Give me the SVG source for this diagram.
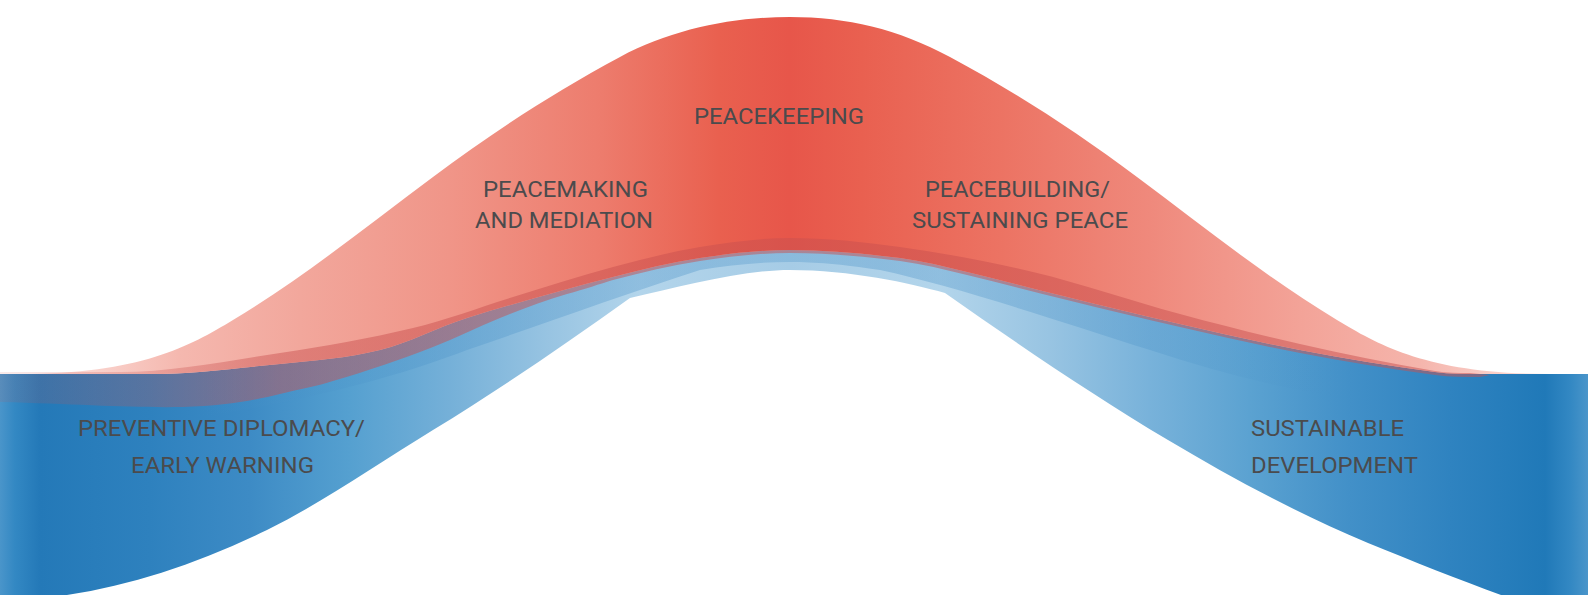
<svg xmlns="http://www.w3.org/2000/svg" width="1588" height="595" viewBox="0 0 1588 595">
  <style>
    .lbl { font-family: Roboto, "Liberation Sans", Arial, sans-serif; font-size: 22.5px; fill: #4b4b4d; }
  </style>
  <defs>
    <linearGradient id="blueGrad" gradientUnits="userSpaceOnUse" x1="0" y1="0" x2="1588" y2="0">
      <stop offset="0" stop-color="#4a95ca"/>
      <stop offset="0.0094" stop-color="#3388c3"/>
      <stop offset="0.025" stop-color="#2479b8"/>
      <stop offset="0.094" stop-color="#2e81be"/>
      <stop offset="0.157" stop-color="#3d8bc5"/>
      <stop offset="0.220" stop-color="#55a0d0"/>
      <stop offset="0.283" stop-color="#75b0d8"/>
      <stop offset="0.346" stop-color="#98c4e2"/>
      <stop offset="0.403" stop-color="#b3d5eb"/>
      <stop offset="0.497" stop-color="#a6cce6"/>
      <stop offset="0.592" stop-color="#b3d5eb"/>
      <stop offset="0.661" stop-color="#98c4e2"/>
      <stop offset="0.724" stop-color="#78b2da"/>
      <stop offset="0.787" stop-color="#5ba2d1"/>
      <stop offset="0.850" stop-color="#4290c8"/>
      <stop offset="0.913" stop-color="#2f83c0"/>
      <stop offset="0.973" stop-color="#2079b8"/>
      <stop offset="0.989" stop-color="#3388c3"/>
      <stop offset="1" stop-color="#4a95ca"/>
    </linearGradient>
    <linearGradient id="flatGrad" gradientUnits="userSpaceOnUse" x1="0" y1="0" x2="1588" y2="0">
      <stop offset="0.126" stop-color="#4a92c8" stop-opacity="0"/>
      <stop offset="0.252" stop-color="#4a92c8" stop-opacity="0.3"/>
      <stop offset="0.441" stop-color="#4a92c8" stop-opacity="0.35"/>
      <stop offset="0.497" stop-color="#4a92c8" stop-opacity="0.3"/>
      <stop offset="0.554" stop-color="#4a92c8" stop-opacity="0.35"/>
      <stop offset="0.724" stop-color="#4a92c8" stop-opacity="0.3"/>
      <stop offset="0.850" stop-color="#4a92c8" stop-opacity="0"/>
    </linearGradient>
    <linearGradient id="redGrad" gradientUnits="userSpaceOnUse" x1="0" y1="0" x2="1588" y2="0">
      <stop offset="0" stop-color="#fde9e6"/>
      <stop offset="0.063" stop-color="#f9d0ca"/>
      <stop offset="0.113" stop-color="#f5b8af"/>
      <stop offset="0.189" stop-color="#f2a79c"/>
      <stop offset="0.283" stop-color="#f09588"/>
      <stop offset="0.378" stop-color="#ed7c6d"/>
      <stop offset="0.453" stop-color="#e9604f"/>
      <stop offset="0.497" stop-color="#e7564a"/>
      <stop offset="0.542" stop-color="#e96050"/>
      <stop offset="0.630" stop-color="#ec7363"/>
      <stop offset="0.724" stop-color="#ef897c"/>
      <stop offset="0.819" stop-color="#f3a398"/>
      <stop offset="0.894" stop-color="#f5b5ac"/>
      <stop offset="0.945" stop-color="#f9d0ca"/>
      <stop offset="1" stop-color="#fde9e6"/>
    </linearGradient>
    <linearGradient id="strandGrad" gradientUnits="userSpaceOnUse" x1="0" y1="0" x2="1588" y2="0">
      <stop offset="0" stop-color="#c9504f" stop-opacity="0.12"/>
      <stop offset="0.094" stop-color="#c9504f" stop-opacity="0.27"/>
      <stop offset="0.176" stop-color="#c9504f" stop-opacity="0.47"/>
      <stop offset="0.30" stop-color="#c9504f" stop-opacity="0.5"/>
      <stop offset="1" stop-color="#c9504f" stop-opacity="0.5"/>
    </linearGradient>
  </defs>

  <g id="band-development">
    <path fill="url(#blueGrad)" d="M0,374 L150,374 C193,374 237,368 280,364 C313,360.7 347,358.2 380,350 C409,342.9 438,327.1 467,318 C516,302.8 564,289.6 613,277 C642,269.5 671,262.4 700,258 C730,253.5 760,250 790,250 C826.7,250 863.3,253.5 900,258 C922.3,260.8 944.7,266.8 967,272 C1000.3,279.8 1033.7,288.9 1067,297 C1104.7,306.2 1142.3,315.4 1180,324 C1220,333.1 1260,342.5 1300,350 C1345,358.5 1390,366 1435,372 C1450,374 1465,374 1480,374 L1588,374 L1588,600 L1501,600 L1501,595 C1460,580 1412,561 1368,543 C1301,515 1235,480 1168,440 C1094,396 1019,345 945,293 C910,283 850,270 790,270 C740,270 680,287 630,298 C564,345 499,390 433,430 C378,463.5 322,503 267,530 C200,562.5 134,585 67,595 L67,600 L0,600 Z"/>
    <path fill="url(#flatGrad)" d="M0,374 L150,374 C193,374 237,368 280,364 C313,360.7 347,358.2 380,350 C409,342.9 438,327.1 467,318 C516,302.8 564,289.6 613,277 C642,269.5 671,262.4 700,258 C730,253.5 760,250 790,250 C826.7,250 863.3,253.5 900,258 C922.3,260.8 944.7,266.8 967,272 C1000.3,279.8 1033.7,288.9 1067,297 C1104.7,306.2 1142.3,315.4 1180,324 C1220,333.1 1260,342.5 1300,350 C1345,358.5 1390,366 1435,372 C1450,374 1465,374 1480,374 L1588,374 L1588,420 C1450,420 1300,400 1150,350 C1050,318 950,285 880,270 C840,264 815,262 790,262 C760,262 730,265 700,270 C620,296 540,325 467,350 C380,383 250,420 0,440 Z"/>
  </g>

  <g id="band-peace">
    <path fill="url(#redGrad)" d="M0,374 L20,374 C140,374 190,346 233,320 C300,280 366,227 433,177 C495,130.5 555,92 620,57 C672,29 733,17 790,17 C847,17 898,29 950,57 C1015,92 1075,130.5 1137,177 C1204,227 1270,280 1337,320 C1380,346 1430,374 1550,374 L1588,374 L1480,374 C1465,374 1450,374 1435,372 C1390,366 1345,358.5 1300,350 C1260,342.5 1220,333.1 1180,324 C1142.3,315.4 1104.7,306.2 1067,297 C1033.7,288.9 1000.3,279.8 967,272 C944.7,266.8 922.3,260.8 900,258 C863.3,253.5 826.7,250 790,250 C760,250 730,253.5 700,258 C671,262.4 642,269.5 613,277 C564,289.6 516,302.8 467,318 C438,327.1 409,342.9 380,350 C347,358.2 313,360.7 280,364 C237,368 193,374 150,374 L0,374 Z"/>
  </g>

  <g id="overlap-strand">
    <path fill="url(#strandGrad)" d="M0,372 L120,372 C173,372 227,361 280,353 C324,346.4 369,338.6 413,328 C446,320 480,307.2 513,297 C546,286.8 580,275.9 613,267 C642,259.3 671,251.8 700,247 C730,242.1 760,238 790,238 C826.7,238 863.3,241.9 900,247 C944.3,253.2 988.7,261.4 1033,272 C1082,283.7 1131,300.8 1180,314 C1220,324.8 1260,335 1300,344 C1345,354.1 1390,363.3 1435,371 C1446.7,373 1458.3,373 1470,373 L1490,375 L1480,377 C1465,377 1450,377 1435,375 C1390,369 1345,361.5 1300,353 C1260,345.5 1220,336.1 1180,327 C1142.3,318.4 1104.7,309.2 1067,300 C1033.7,291.9 1000.3,282.8 967,275 C944.7,269.8 922.3,263.8 900,261 C863.3,256.5 826.7,253 790,253 C760,253 730,256.5 700,261 C671,265.4 642,272.5 613,280 C600,284 585,289 567,294 C545,300 523,309 500,318 C478,327 456,338 433,347 C400,360 370,370 333,381 C318,386 300,389 280,394 C255,400 225,406 183,407 C130,408 80,404 0,402 Z"/>
  </g>

  <g id="label-peacekeeping">
    <text class="lbl" x="694" y="124" textLength="170" lengthAdjust="spacingAndGlyphs">PEACEKEEPING</text>
  </g>
  <g id="label-peacemaking">
    <text class="lbl" x="483" y="196.5" textLength="165" lengthAdjust="spacingAndGlyphs">PEACEMAKING</text>
    <text class="lbl" x="475" y="228" textLength="178" lengthAdjust="spacingAndGlyphs">AND MEDIATION</text>
  </g>
  <g id="label-peacebuilding">
    <text class="lbl" x="925" y="196.5" textLength="185" lengthAdjust="spacingAndGlyphs">PEACEBUILDING/</text>
    <text class="lbl" x="912" y="228" textLength="216" lengthAdjust="spacingAndGlyphs">SUSTAINING PEACE</text>
  </g>
  <g id="label-preventive">
    <text class="lbl" x="78" y="436" textLength="287" lengthAdjust="spacingAndGlyphs">PREVENTIVE DIPLOMACY/</text>
    <text class="lbl" x="131" y="473" textLength="183" lengthAdjust="spacingAndGlyphs">EARLY WARNING</text>
  </g>
  <g id="label-sustainable">
    <text class="lbl" x="1251" y="436" textLength="153" lengthAdjust="spacingAndGlyphs">SUSTAINABLE</text>
    <text class="lbl" x="1251" y="473" textLength="167" lengthAdjust="spacingAndGlyphs">DEVELOPMENT</text>
  </g>
</svg>
